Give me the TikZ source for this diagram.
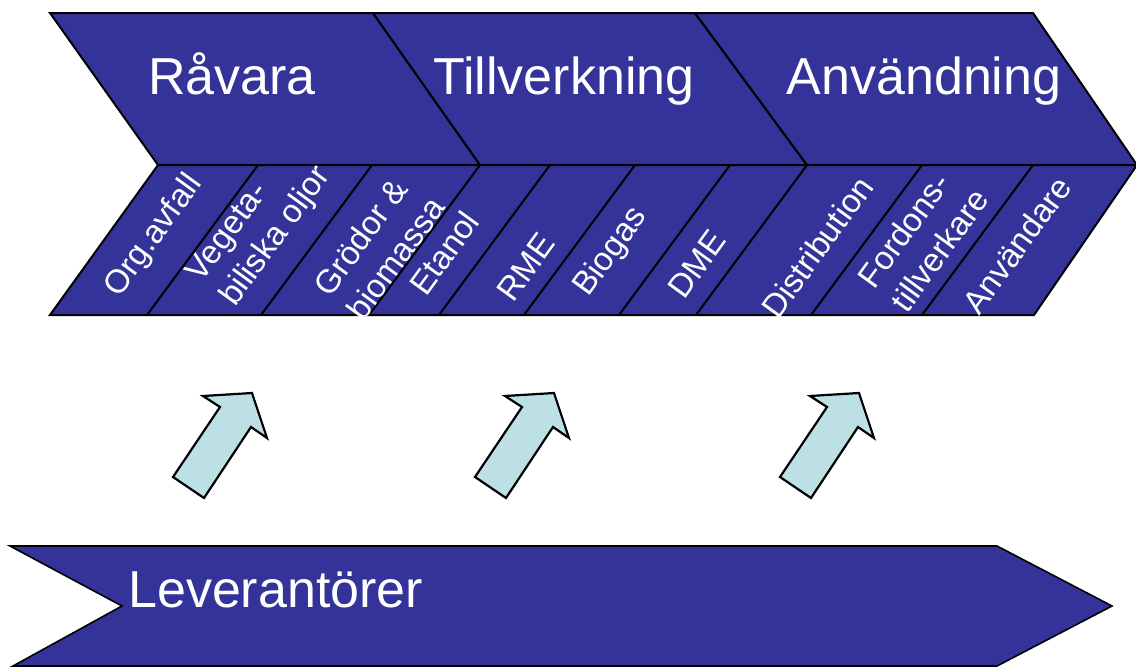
\documentclass[tikz,border=0pt]{standalone}
\usepackage{fontspec}
\setmainfont{Liberation Sans}
\usepackage{tikz}
\usepackage{xcolor}
\definecolor{pptblue}{RGB}{51,51,153}
\definecolor{pptcyan}{RGB}{188,224,227}
\tikzset{
  Band/.style={fill=pptblue, draw=black, line width=2pt, line join=miter},
  Stage/.style={text=white, inner sep=0pt, anchor=base,
    font=\fontsize{52}{60}\selectfont},
  Item/.style={text=white, inner sep=0pt, rotate=54, align=left,
    font=\fontsize{33}{41}\selectfont},
  Lift/.style={fill=pptcyan, draw=black, line width=2.2pt, line join=miter}
}

\begin{document}
\begin{tikzpicture}[x=1pt, y=-1pt]
    \useasboundingbox (0,0) rectangle (1136,667);

    \draw[Band] (50,13) -- (373,13) -- (480,165) -- (158,165) -- cycle;
    \draw[Band] (373,13) -- (695,13) -- (807,165) -- (480,165) -- cycle;
    \draw[Band] (695,13) -- (1033,13) -- (1137,165) -- (807,165) -- cycle;
    \draw[Band] (158,165) -- (1137,165) -- (1034,315) -- (50,315) -- cycle;
    \foreach \t in {258,372,480,550,635,730,807,922,1033}
        \draw[line width=2pt] (\t,165) -- ++(-111,150);

    \draw[Band, line width=1.6pt] (10,546) -- (997,546) -- (1112,606)
        -- (997,666) -- (13,666) -- (122,606) -- cycle;

    \foreach \dx in {0,302,607}
        \draw[Lift, shift={(\dx,0)}] (173,477) -- (204,498) -- (251,427)
            -- (267,438) -- (252,393) -- (203,396) -- (220,407) -- cycle;

    \node[Stage] (ravara) at (232,94) {Råvara};
    \node[Stage] (tillv) at (564,94) {Tillverkning};
    \node[Stage] (anvandn) at (924,94) {Användning};
    \node[Stage, anchor=base west] (lev) at (128,607) {Leverantörer};

    \node[Item] (org) at (154,236) {Org.avfall};
    \node[Item] (veg) at (260,225) {Vegeta-\\biliska oljor};
    \node[Item] (grod) at (379,246) {Grödor \&\\biomassa};
    \node[Item] (etanol) at (444,253) {Etanol};
    \node[Item] (rme) at (526,267) {RME};
    \node[Item] (biogas) at (611,252) {Biogas};
    \node[Item] (dme) at (697,264) {DME};
    \node[Item] (distr) at (817,247) {Distribution};
    \node[Item] (fordon) at (923,238) {Fordons-\\tillverkare};
    \node[Item] (anv) at (1017,245) {Användare};
\end{tikzpicture}
\end{document}
